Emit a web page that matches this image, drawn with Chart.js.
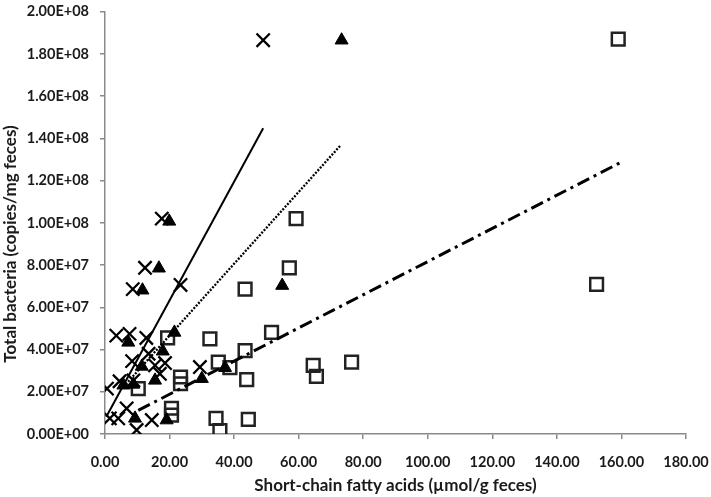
<!DOCTYPE html>
<html><head><meta charset="utf-8">
<script src="https://cdn.jsdelivr.net/npm/chart.js@4/dist/chart.umd.min.js"></script>
<style>html,body{margin:0;padding:0;background:#fff;}#wrap{width:711px;height:497px;}</style>
</head><body><div id="wrap"><canvas id="c" width="711" height="497"></canvas></div>
<script>
// Series 1: crosses
const crossX = [49.0, 17.6, 12.4, 8.6, 23.4, 3.5, 7.6, 12.8, 8.4, 13.5, 15.5, 18.6, 17.0, 0.6, 4.5, 8.8, 29.4, 1.5, 4.1, 6.7, 9.8, 14.5];
const crossY = [18.65e7, 10.2e7, 7.87e7, 6.86e7, 7.06e7, 4.66e7, 4.74e7, 4.55e7, 3.45e7, 3.8e7, 3.25e7, 3.36e7, 2.85e7, 2.15e7, 2.5e7, 2.54e7, 3.17e7, 0.74e7, 0.74e7, 1.21e7, 0.19e7, 0.66e7];
// Series 2: filled triangles
const triX = [73.3, 19.9, 16.7, 11.6, 54.9, 7.2, 21.5, 17.9, 11.4, 15.5, 5.7, 8.8, 30.0, 37.2, 9.3, 19.1];
const triY = [18.65e7, 10.07e7, 7.85e7, 6.81e7, 7.03e7, 4.34e7, 4.81e7, 3.92e7, 3.2e7, 2.54e7, 2.31e7, 2.35e7, 2.62e7, 3.14e7, 0.74e7, 0.66e7];
// Series 3: open squares
const sqX = [159.0, 152.3, 59.2, 57.1, 43.4, 51.6, 32.5, 43.4, 19.4, 35.1, 38.7, 43.9, 64.5, 65.5, 76.4, 23.4, 23.4, 10.3, 20.6, 20.6, 34.4, 35.6, 44.4];
const sqY = [18.7e7, 7.09e7, 10.2e7, 7.87e7, 6.86e7, 4.81e7, 4.5e7, 3.95e7, 4.55e7, 3.4e7, 3.14e7, 2.57e7, 3.25e7, 2.73e7, 3.4e7, 2.7e7, 2.38e7, 2.15e7, 1.22e7, 0.89e7, 0.74e7, 0.16e7, 0.69e7];
// Trendline end points
const solidX = [0.4, 49.0];
const solidY = [0.82e7, 14.48e7];
const dottedX = [5.7, 72.8];
const dottedY = [2.23e7, 13.64e7];
const dashDotX = [10.3, 159.5];
const dashDotY = [1.12e7, 12.84e7];
// Tick labels
const xTickLabels = ['0.00','20.00','40.00','60.00','80.00','100.00','120.00','140.00','160.00','180.00'];
const yTickLabels = ['0.00E+00','2.00E+07','4.00E+07','6.00E+07','8.00E+07','1.00E+08','1.20E+08','1.40E+08','1.60E+08','1.80E+08','2.00E+08'];
const xTitle = 'Short-chain fatty acids (\u00b5mol/g feces)';
const yTitle = 'Total bacteria (copies/mg feces)';

const pts = (xs, ys) => xs.map((x, i) => ({x: x, y: ys[i]}));
const FONT = 'Lato';
const TXT = '#1a1a1a';
const AX = '#8a8a8a';

const yTitlePlugin = {
  id: 'yTitle',
  afterDraw(chart) {
    const ctx = chart.ctx;
    ctx.save();
    ctx.translate(11, 244);
    ctx.rotate(-Math.PI / 2);
    ctx.font = 'bold 17px ' + FONT;
    ctx.fillStyle = TXT;
    ctx.textAlign = 'center';
    ctx.textBaseline = 'middle';
    ctx.fillText(yTitle, 0, 0);
    ctx.restore();
  }
};

new Chart(document.getElementById('c'), {
  type: 'scatter',
  data: {
    datasets: [
      {label: 'solid', type: 'line', data: pts(solidX, solidY), showLine: true, borderColor: '#000', borderWidth: 2, pointRadius: 0, fill: false},
      {label: 'dotted', type: 'line', data: pts(dottedX, dottedY), showLine: true, borderColor: '#000', borderWidth: 2.3, borderDash: [2, 1.5], pointRadius: 0, fill: false},
      {label: 'dashdot', type: 'line', data: pts(dashDotX, dashDotY), showLine: true, borderColor: '#000', borderWidth: 3, borderDash: [13, 5, 3, 5], pointRadius: 0, fill: false},
      {label: 'cross', data: pts(crossX, crossY), pointStyle: 'crossRot', pointRadius: 9.4, borderColor: '#000', borderWidth: 2.3, backgroundColor: '#000'},
      {label: 'triangle', data: pts(triX, triY), pointStyle: 'triangle', pointRadius: 7.5, borderColor: '#000', borderWidth: 1, backgroundColor: '#000'},
      {label: 'square', data: pts(sqX, sqY), pointStyle: 'rect', pointRadius: 9, borderColor: '#222', borderWidth: 2.5, backgroundColor: 'rgba(0,0,0,0)'}
    ]
  },
  options: {
    responsive: false,
    animation: false,
    devicePixelRatio: 1,
    layout: {padding: {top: 9, right: 25, left: 0, bottom: 0}},
    plugins: {legend: {display: false}, tooltip: {enabled: false}},
    elements: {point: {hoverRadius: 0}},
    scales: {
      x: {
        type: 'linear', min: 0, max: 180,
        ticks: {stepSize: 20, padding: 15, color: TXT, font: {family: FONT, size: 14.5, weight: 'bold'},
          callback: (v, i) => xTickLabels[i]},
        grid: {display: true, drawOnChartArea: false, drawTicks: true, tickLength: 5, color: AX, lineWidth: 1.5},
        border: {display: true, color: AX, width: 1.5},
        title: {display: true, text: xTitle, color: TXT, font: {family: FONT, size: 17, weight: 'bold'}, padding: {top: 0, bottom: 1}},
        afterFit: (s) => { s.height = 63; s.paddingLeft = 0; s.paddingRight = 0; }
      },
      y: {
        type: 'linear', min: 0, max: 2e8,
        ticks: {stepSize: 2e7, padding: 11, color: TXT, font: {family: FONT, size: 14.5, weight: 'bold'},
          callback: (v, i) => yTickLabels[i]},
        grid: {display: true, drawOnChartArea: false, drawTicks: true, tickLength: 5, color: AX, lineWidth: 1.5},
        border: {display: true, color: AX, width: 1.5},
        afterFit: (s) => { s.width = 105; s.paddingTop = 0; s.paddingBottom = 0; }
      }
    }
  },
  plugins: [yTitlePlugin]
});
</script>
</body></html>
